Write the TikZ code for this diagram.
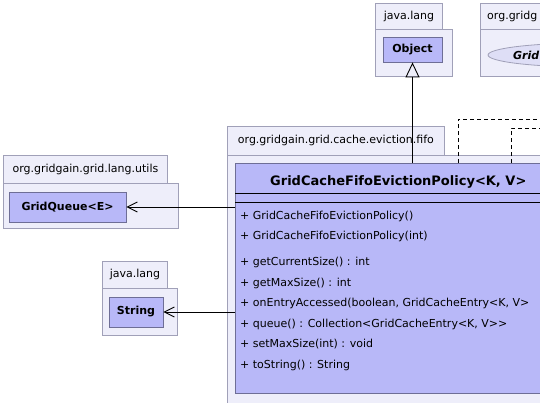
\documentclass[tikz,border=0pt]{standalone}
\usepackage{fontspec}
\setmainfont{DejaVu Sans}
\usetikzlibrary{arrows.meta,shapes.geometric}
\definecolor{pkgfill}{RGB}{238,238,250}
\definecolor{pkgline}{RGB}{160,160,184}
\definecolor{clsfill}{RGB}{184,184,248}
\definecolor{clsline}{RGB}{110,110,150}
\definecolor{ifill}{RGB}{222,222,246}
\begin{document}
\begin{tikzpicture}[x=1pt,y=-1pt,
  pkgtab/.style={draw=pkgline, fill=pkgfill, anchor=north west, inner sep=0pt, line width=0.8pt, font=\fontsize{11}{13}\selectfont},
  pkgbody/.style={draw=pkgline, fill=pkgfill, anchor=north west, inner sep=0pt, line width=0.8pt},
  cls/.style={draw=clsline, fill=clsfill, inner sep=0pt, line width=0.8pt, font=\fontsize{11}{13}\selectfont\bfseries},
  member/.style={anchor=base west, inner sep=0pt, font=\fontsize{11}{13}\selectfont},
  dep/.style={-{Straight Barb[length=10pt,width=10pt]}, line width=0.9pt},
  gen/.style={-{Triangle[open,length=15pt,width=14pt]}, line width=0.9pt},
  real/.style={dash pattern=on 4pt off 3pt, line width=0.9pt}]
\clip (0,0) rectangle (540,402);
\fill[white] (0,0) rectangle (540,402);

% java.lang (Object)
\node[pkgbody, minimum width=77pt, minimum height=47pt] (jlb1) at (375,29) {};
\node[pkgtab, minimum width=67pt, minimum height=26pt] (jlt1) at (375,3) {java.lang};
\node[cls, minimum width=59pt, minimum height=25pt] (object) at (412.5,49.5) {Object};

% org.gridgain... (interface, cut by the right edge)
\node[pkgbody, minimum width=120pt, minimum height=47pt] (ogb) at (480,29) {};
\node[pkgtab, minimum width=120pt, minimum height=26pt] (ogt) at (480,3) {};
\node[anchor=base west, inner sep=0pt, font=\fontsize{11}{13}\selectfont] (ogl) at (487,19) {org.gridg};
\node[ellipse, draw=pkgline, fill=ifill, line width=0.8pt, inner sep=0pt, minimum width=200pt, minimum height=24pt] (iface) at (588,55) {};
\node[anchor=base west, inner sep=0pt, font=\fontsize{11}{13}\selectfont\bfseries\itshape] (ifl) at (513,59) {Grid};

% main package
\node[pkgbody, minimum width=400pt, minimum height=260pt] (mpb) at (227,155) {};
\node[pkgtab, minimum width=217pt, minimum height=29pt] (mpt) at (227,126) {org.gridgain.grid.cache.eviction.fifo};
\node[cls, anchor=north west, minimum width=405pt, minimum height=230pt] (main) at (235,163) {};
\node[anchor=base west, inner sep=0pt, font=\fontsize{13}{15}\selectfont\bfseries] (title) at (270,185) {GridCacheFifoEvictionPolicy<K, V>};
\draw[line width=0.9pt] (main.north west |- 0,193) -- (main.north east |- 0,193);
\draw[line width=0.9pt] (main.north west |- 0,202) -- (main.north east |- 0,202);
\node[member] (m1) at (240,219) {+ GridCacheFifoEvictionPolicy()};
\node[member] (m2) at (240,239.5) {+ GridCacheFifoEvictionPolicy(int)};
\node[member] (m3) at (240,265.5) {+ getCurrentSize() : int};
\node[member] (m4) at (240,286) {+ getMaxSize() : int};
\node[member] (m5) at (240,306.5) {+ onEntryAccessed(boolean, GridCacheEntry<K, V>};
\node[member] (m6) at (240,327) {+ queue() : Collection<GridCacheEntry<K, V>{}>};
\node[member] (m7) at (240,347.5) {+ setMaxSize(int) : void};
\node[member] (m8) at (240,368) {+ toString() : String};

% org.gridgain.grid.lang.utils
\node[pkgbody, minimum width=175pt, minimum height=45pt] (lub) at (3,183) {};
\node[pkgtab, minimum width=164pt, minimum height=28pt] (lut) at (3,155) {org.gridgain.grid.lang.utils};
\node[cls, minimum width=117pt, minimum height=30pt] (gq) at (67.5,207) {GridQueue<E>};

% java.lang (String)
\node[pkgbody, minimum width=75pt, minimum height=47pt] (jlb2) at (102,288) {};
\node[pkgtab, minimum width=65pt, minimum height=27pt] (jlt2) at (102,261) {java.lang};
\node[cls, minimum width=54pt, minimum height=30pt] (str) at (136,312) {String};

% connectors
\draw[gen] (object.south |- main.north) -- (object.south);
\draw[dep] (main.west |- gq.east) -- (gq.east);
\draw[dep] (main.west |- str.east) -- (str.east);
\coordinate (d1) at (458,119);
\coordinate (e1) at (560,119);
\coordinate (d2) at (511,128);
\coordinate (e2) at (560,128);
\draw[real] (main.north west -| d1) |- (e1);
\draw[real] (main.north west -| d2) |- (e2);
\end{tikzpicture}
\end{document}
